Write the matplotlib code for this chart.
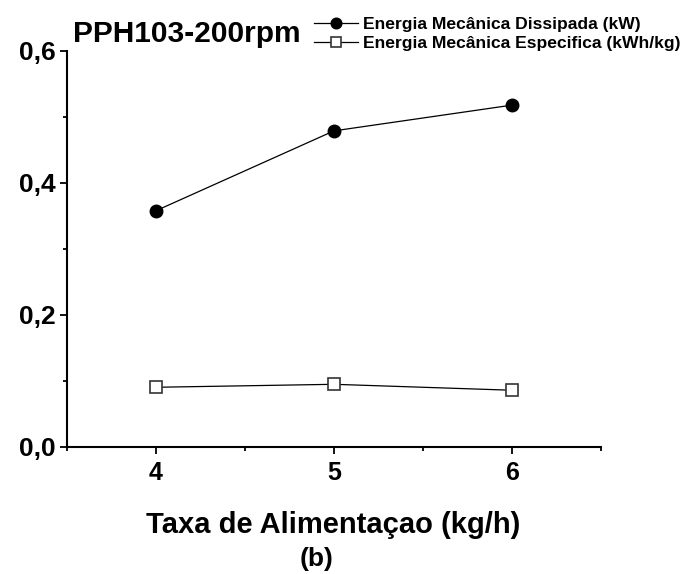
import numpy as np
import matplotlib
matplotlib.use("Agg")
import matplotlib.pyplot as plt
from matplotlib.ticker import MultipleLocator, FuncFormatter

plt.rcParams['font.family'] = ['Liberation Sans', 'DejaVu Sans']
plt.rcParams['font.weight'] = 'bold'

# data
taxa = [4, 5, 6]
energia_dissipada = [0.358, 0.479, 0.518]     # kW
energia_especifica = [0.0905, 0.095, 0.086]   # kWh/kg

label_dissipada = "Energia Mecânica Dissipada (kW)"
label_especifica = "Energia Mecânica Especifica (kWh/kg)"

fig = plt.figure(figsize=(6.87, 5.74), dpi=100)
ax = fig.add_axes([67/687, 1 - 447/574, (601 - 67)/687, (447 - 51)/574])

ax.plot(taxa, energia_dissipada, '-o', color='black', lw=0.9,
        ms=9, mfc='black', mec='black', label=label_dissipada)
ax.plot(taxa, energia_especifica, '-s', color='black', lw=0.9,
        ms=8, mfc='white', mec='#333333', mew=1.2, label=label_especifica)

ax.set_xlim(3.5, 6.5)
ax.set_ylim(0, 0.6)
ax.xaxis.set_major_locator(MultipleLocator(1))
ax.xaxis.set_minor_locator(MultipleLocator(0.5))
ax.yaxis.set_major_locator(MultipleLocator(0.2))
ax.yaxis.set_minor_locator(MultipleLocator(0.1))
ax.yaxis.set_major_formatter(FuncFormatter(lambda v, p: f"{v:.1f}".replace('.', ',')))
ax.xaxis.set_major_formatter(FuncFormatter(lambda v, p: f"{v:.0f}"))

for s in ['top', 'right']:
    ax.spines[s].set_visible(False)
for s in ['left', 'bottom']:
    ax.spines[s].set_linewidth(1.5)

ax.tick_params(which='major', direction='out', length=5, width=1.3)
ax.tick_params(which='minor', direction='out', length=3, width=1.3)
ax.tick_params(axis='x', pad=5, labelsize=18)
ax.tick_params(axis='y', pad=3, labelsize=19)
for lbl in ax.get_xticklabels() + ax.get_yticklabels():
    lbl.set_fontweight('bold')

fig.text(333/687, 1 - 533/574, "Taxa de Alimentaçao (kg/h)", ha='center', va='baseline',
         fontsize=21, fontweight='bold')
fig.text(317/687, 1 - 559/574, "(b)", ha='center', va='center',
         fontsize=19, fontweight='bold')
fig.text(73/687, 1 - 42/574, "PPH103-200rpm", ha='left', va='baseline',
         fontsize=21.5, fontweight='bold')

leg = ax.legend(loc='upper left', bbox_to_anchor=(314/687, 1 - 17/574),
                bbox_transform=fig.transFigure, frameon=False, borderpad=0,
                borderaxespad=0, handlelength=2.5, handletextpad=0.3,
                labelspacing=0.2, prop={'size': 12.6, 'weight': 'bold'},
                markerscale=0.85)

fig.savefig("out.png", dpi=100)
